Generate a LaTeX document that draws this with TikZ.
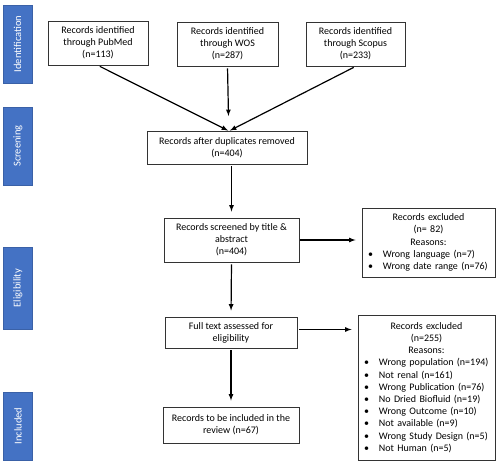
\documentclass[tikz,border=0pt]{standalone}
\usepackage{fontspec}
\setmainfont{Carlito}
\usetikzlibrary{positioning}
\definecolor{stageblue}{RGB}{68,114,196}

\begin{document}
\begin{tikzpicture}[x=1pt,y=-1pt,
    box/.style={draw=black!80,line width=0.9pt,align=center,inner sep=2pt,
      font=\fontsize{10}{12.2}\selectfont},
    listbox/.style={draw=black!80,line width=0.9pt,inner xsep=6pt,inner ysep=2pt,
      font=\fontsize{10}{12.2}\selectfont},
    stage/.style={fill=stageblue,draw=stageblue!85!black,text=white,rotate=90,
      minimum height=29pt,inner sep=0pt,font=\fontsize{10.5}{12}\selectfont},
    link/.style={-latex,line width=1.2pt,shorten <=2pt,shorten >=6pt}]
  \useasboundingbox (0,0) rectangle (500,471);

  \node[stage,minimum width=78pt] (identification) at (17.5,44) {Identification};
  \node[stage,minimum width=78pt] (screening) at (18,146) {Screening};
  \node[stage,minimum width=82pt] (eligibility) at (18,288) {Eligibility};
  \node[stage,minimum width=68pt] (included) at (18,426) {Included};

  \node[box,minimum width=100pt,minimum height=44pt] (pubmed) at (98,43)
    {Records identified\\through PubMed\\(n=113)};
  \node[box,minimum width=101pt,minimum height=44pt] (wos) at (227.5,44)
    {Records identified\\through WOS\\(n=287)};
  \node[box,minimum width=99pt,minimum height=44pt] (scopus) at (355.5,44)
    {Records identified\\through Scopus\\(n=233)};
  \node[box,minimum width=160pt,minimum height=33pt] (dup) at (227,147.5)
    {Records after duplicates removed\\(n=404)};
  \node[box,minimum width=135pt,minimum height=44pt] (screen) at (231.5,240)
    {Records screened by title \&\\abstract\\(n=404)};
  \node[box,minimum width=132pt,minimum height=31pt] (full) at (231,332.5)
    {Full text assessed for\\eligibility};
  \node[box,minimum width=136pt,minimum height=36pt] (incl) at (231,425)
    {Records to be included in the\\review (n=67)};

  \node[listbox,text width=121pt,minimum height=69pt] (excla) at (428.5,242.5)
    {{\centering Records excluded\\(n= 82)\\Reasons:\par}
     \makebox[15pt][l]{\textbullet}Wrong language (n=7)\\
     \makebox[15pt][l]{\textbullet}Wrong date range (n=76)};
  \node[listbox,text width=125pt,minimum height=145pt] (exclb) at (426.5,387.5)
    {{\centering Records excluded\\(n=255)\\Reasons:\par}
     \makebox[15pt][l]{\textbullet}Wrong population (n=194)\\
     \makebox[15pt][l]{\textbullet}Not renal (n=161)\\
     \makebox[15pt][l]{\textbullet}Wrong Publication (n=76)\\
     \makebox[15pt][l]{\textbullet}No Dried Biofluid (n=19)\\
     \makebox[15pt][l]{\textbullet}Wrong Outcome (n=10)\\
     \makebox[15pt][l]{\textbullet}Not available (n=9)\\
     \makebox[15pt][l]{\textbullet}Wrong Study Design (n=5)\\
     \makebox[15pt][l]{\textbullet}Not Human (n=5)};

  \coordinate (merge) at (229,131);
  \coordinate (wosend) at (228.5,116);

  \draw[link,shorten >=1pt] (pubmed.south) -- (merge);
  \draw[link,shorten >=0pt] (wos.south) -- (wosend);
  \draw[link,shorten >=1pt] (scopus.south) -- (merge);
  \draw[link] (screen.north |- dup.south) -- (screen.north);
  \draw[link] (screen.south) -- (full.north);
  \draw[link] (full.south) -- (incl.north);
  \draw[link,shorten <=1pt] (screen.east) -- (screen.east -| excla.west);
  \draw[link] ([yshift=3pt]full.east) -- ([yshift=3pt]full.east -| exclb.west);
\end{tikzpicture}
\end{document}
